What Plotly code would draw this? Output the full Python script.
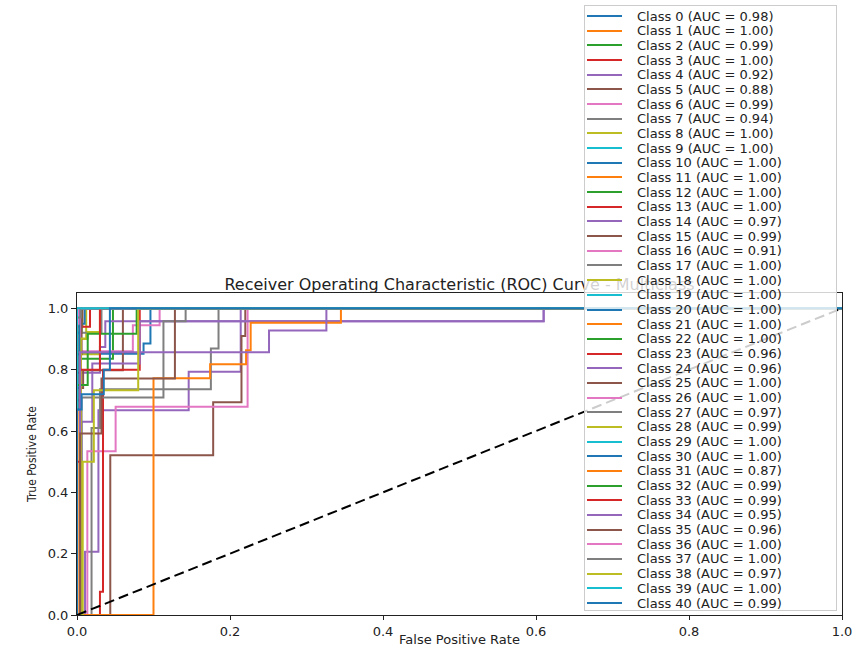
import plotly.graph_objects as go

# ---------------------------------------------------------------------------
# ROC curves per class (corner points of each step curve)
# ---------------------------------------------------------------------------
class_ids = list(range(41))

auc_values = [0.98, 1.00, 0.99, 1.00, 0.92, 0.88, 0.99, 0.94, 1.00, 1.00,
              1.00, 1.00, 1.00, 1.00, 0.97, 0.99, 0.91, 1.00, 1.00, 1.00,
              1.00, 1.00, 1.00, 0.96, 0.96, 1.00, 1.00, 0.97, 0.99, 1.00,
              1.00, 0.87, 0.99, 0.99, 0.95, 0.96, 1.00, 1.00, 0.97, 1.00,
              0.99]

roc_fpr = [
    [0, 0, 0.004, 0.004, 0.087, 0.087, 0.096, 0.096, 1],
    [0, 0, 0.004, 0.004, 1],
    [0, 0, 0.004, 0.004, 0.047, 0.047, 1],
    [0, 0, 0.007, 0.007, 1],
    [0, 0.0105, 0.0105, 0.028, 0.028, 0.146, 0.146, 0.214, 0.214, 1],
    [0, 0.0435, 0.0435, 0.178, 0.178, 0.215, 0.215, 0.22, 0.22, 1],
    [0, 0, 0.073, 0.073, 0.108, 0.108, 1],
    [0, 0.019, 0.019, 0.03, 0.03, 0.175, 0.175, 0.185, 0.185, 1],
    [0, 0, 0.012, 0.012, 1],
    [0, 0, 1],
    [0, 0, 0.01, 0.01, 1],
    [0, 0.003, 0.003, 1],
    [0, 0, 0.006, 0.006, 1],
    [0, 0, 0.005, 0.005, 0.017, 0.017, 1],
    [0, 0.005, 0.005, 0.03, 0.03, 0.037, 0.037, 0.61, 0.61, 1],
    [0, 0, 0.008, 0.008, 0.06, 0.06, 1],
    [0, 0.0135, 0.0135, 0.0505, 0.0505, 0.223, 0.223, 1],
    [0, 0, 0.032, 0.032, 1],
    [0, 0, 0.03, 0.03, 1],
    [0, 0, 1],
    [0, 0, 1],
    [0, 0, 1],
    [0, 0, 1],
    [0, 0.03, 0.03, 0.034, 0.034, 0.082, 0.082, 1],
    [0, 0.006, 0.006, 0.02, 0.02, 0.082, 0.082, 0.61, 0.61, 1],
    [0, 0, 0.006, 0.006, 1],
    [0, 0, 0.004, 0.004, 1],
    [0, 0.006, 0.006, 0.113, 0.113, 0.142, 0.142, 1],
    [0, 0.005, 0.005, 0.014, 0.014, 0.03, 0.03, 1],
    [0, 0, 1],
    [0, 0, 0.003, 0.003, 1],
    [0, 0.1, 0.1, 0.174, 0.174, 0.221, 0.221, 0.227, 0.227, 0.345, 0.345, 1],
    [0, 0, 0.014, 0.014, 0.078, 0.078, 1],
    [0, 0, 0.004, 0.004, 0.03, 0.03, 1],
    [0, 0.004, 0.004, 0.251, 0.251, 0.326, 0.326, 1],
    [0, 0.004, 0.004, 0.032, 0.032, 0.128, 0.128, 1],
    [0, 0, 0.002, 0.002, 1],
    [0, 0, 0.005, 0.005, 1],
    [0, 0.0075, 0.0075, 0.022, 0.022, 0.08, 0.08, 1],
    [0, 0, 1],
    [0, 0, 0.006, 0.006, 0.035, 0.035, 0.043, 0.043, 1],
]

roc_tpr = [
    [0, 0.70, 0.70, 0.852, 0.852, 0.885, 0.885, 1, 1],
    [0, 0.96, 0.96, 1, 1],
    [0, 0.749, 0.749, 0.836, 0.836, 1, 1],
    [0, 0.94, 0.94, 1, 1],
    [0, 0, 0.206, 0.206, 0.668, 0.668, 0.793, 0.793, 1, 1],
    [0, 0, 0.521, 0.521, 0.694, 0.694, 0.91, 0.91, 1, 1],
    [0, 0.86, 0.86, 0.945, 0.945, 1, 1],
    [0, 0, 0.61, 0.61, 0.736, 0.736, 0.869, 0.869, 1, 1],
    [0, 0.9, 0.9, 1, 1],
    [0, 1, 1],
    [0, 0.95, 0.95, 1, 1],
    [0, 0, 1, 1],
    [0, 0.92, 0.92, 1, 1],
    [0, 0.79, 0.79, 0.94, 0.94, 1, 1],
    [0, 0, 0.79, 0.79, 0.874, 0.874, 0.958, 0.958, 1, 1],
    [0, 0.74, 0.74, 0.798, 0.798, 1, 1],
    [0, 0, 0.534, 0.534, 0.679, 0.679, 1, 1],
    [0, 0.92, 0.92, 1, 1],
    [0, 0.85, 0.85, 1, 1],
    [0, 1, 1],
    [0, 1, 1],
    [0, 1, 1],
    [0, 1, 1],
    [0, 0, 0.076, 0.076, 0.80, 0.80, 1, 1],
    [0, 0, 0.63, 0.63, 0.82, 0.82, 0.958, 0.958, 1, 1],
    [0, 0.85, 0.85, 1, 1],
    [0, 0.9, 0.9, 1, 1],
    [0, 0, 0.709, 0.709, 0.958, 0.958, 1, 1],
    [0, 0, 0.902, 0.902, 0.923, 0.923, 1, 1],
    [0, 1, 1],
    [0, 0.67, 0.67, 1, 1],
    [0, 0, 0.772, 0.772, 0.818, 0.818, 0.863, 0.863, 0.953, 0.953, 1, 1],
    [0, 0.75, 0.75, 0.917, 0.917, 1, 1],
    [0, 0.5, 0.5, 0.8, 0.8, 1, 1],
    [0, 0, 0.857, 0.857, 0.928, 0.928, 1, 1],
    [0, 0, 0.592, 0.592, 0.771, 0.771, 1, 1],
    [0, 0.95, 0.95, 1, 1],
    [0, 0.97, 0.97, 1, 1],
    [0, 0, 0.5, 0.5, 0.733, 0.733, 1, 1],
    [0, 1, 1],
    [0, 0.67, 0.67, 0.72, 0.72, 0.80, 0.80, 1, 1],
]

chance_x = [0, 1]
chance_y = [0, 1]

x_ticks = [0.0, 0.2, 0.4, 0.6, 0.8, 1.0]
y_ticks = [0.0, 0.2, 0.4, 0.6, 0.8, 1.0]

palette = ['#1f77b4', '#ff7f0e', '#2ca02c', '#d62728', '#9467bd',
           '#8c564b', '#e377c2', '#7f7f7f', '#bcbd22', '#17becf']

# ---------------------------------------------------------------------------
# Page geometry (pixels)
# ---------------------------------------------------------------------------
W, H = 854, 647
PL, PR, PT, PB = 77, 842, 293, 615   # plot area edges


def px_x(p):
    return (p - PL) / (PR - PL)


def px_y(p):
    return (PB - p) / (PB - PT)


fig = go.Figure()

for k in class_ids:
    fig.add_trace(go.Scatter(
        x=roc_fpr[k], y=roc_tpr[k], mode='lines',
        line=dict(color=palette[k % 10], width=2),
        name=f'Class {k} (AUC = {auc_values[k]:.2f})',
        showlegend=False, hoverinfo='skip',
    ))

fig.add_trace(go.Scatter(
    x=chance_x, y=chance_y, mode='lines',
    line=dict(color='black', width=2, dash='10px,5px'),
    showlegend=False, hoverinfo='skip',
))

# ---------------------------------------------------------------------------
# Legend box drawn with annotations (semi-transparent frame over the axes)
# ---------------------------------------------------------------------------
annotations = []
LEG_L, LEG_R, LEG_T, LEG_B = 584, 837, 5, 611
annotations.append(dict(
    xref='paper', yref='paper', x=px_x(LEG_L), y=px_y(LEG_T),
    xanchor='left', yanchor='top', text=' ', showarrow=False,
    width=LEG_R - LEG_L - 2, height=LEG_B - LEG_T - 2,
    bgcolor='rgba(255,255,255,0.8)', bordercolor='#cccccc',
    borderwidth=1, borderpad=0, font=dict(size=1),
))

ROW0, ROW_STEP = 16.0, 14.675
for k in class_ids:
    yc = ROW0 + k * ROW_STEP
    annotations.append(dict(
        xref='paper', yref='paper', x=px_x(587), y=px_y(yc),
        xanchor='left', yanchor='middle', text=' ', showarrow=False,
        width=35, height=2, bgcolor=palette[k % 10],
        borderwidth=0, borderpad=0, font=dict(size=1),
    ))
    annotations.append(dict(
        xref='paper', yref='paper', x=px_x(635), y=px_y(yc),
        xanchor='left', yanchor='middle', showarrow=False,
        text=f'Class {k} (AUC = {auc_values[k]:.2f})',
        font=dict(family='DejaVu Sans', size=13, color='#222222'),
    ))

fig.update_layout(
    width=W, height=H,
    margin=dict(l=PL, r=W - PR, t=PT, b=H - PB, autoexpand=False),
    paper_bgcolor='white', plot_bgcolor='white',
    font=dict(family='DejaVu Sans', color='#222222'),
    title=dict(
        text='Receiver Operating Characteristic (ROC) Curve - Multiclass',
        x=(PL + PR) / 2 / W, xanchor='center', xref='container',
        y=1 - 284 / H, yanchor='middle', yref='container',
        font=dict(family='DejaVu Sans', size=16, color='#222222'),
    ),
    xaxis=dict(
        range=[0, 1], tickvals=x_ticks, tickformat='.1f',
        showgrid=False, zeroline=False,
        showline=True, linecolor='#222222', linewidth=1, mirror=True,
        ticks='outside', ticklen=4, tickcolor='#222222',
        tickfont=dict(size=13, color='#222222'),
        title=dict(text='False Positive Rate', standoff=1,
                   font=dict(size=13, color='#222222')),
        automargin=False,
    ),
    yaxis=dict(
        range=[0, 1.05], tickvals=y_ticks, tickformat='.1f',
        showgrid=False, zeroline=False,
        showline=True, linecolor='#222222', linewidth=1, mirror=True,
        ticks='outside', ticklen=5, tickcolor='#222222',
        tickfont=dict(size=13, color='#222222'),
        title=dict(text='True Positive Rate', standoff=8,
                   font=dict(family='DejaVu Sans Condensed, DejaVu Sans',
                             size=12, color='#222222')),
        automargin=False,
    ),
    annotations=annotations,
    showlegend=False,
)

fig.write_html('out.html')
